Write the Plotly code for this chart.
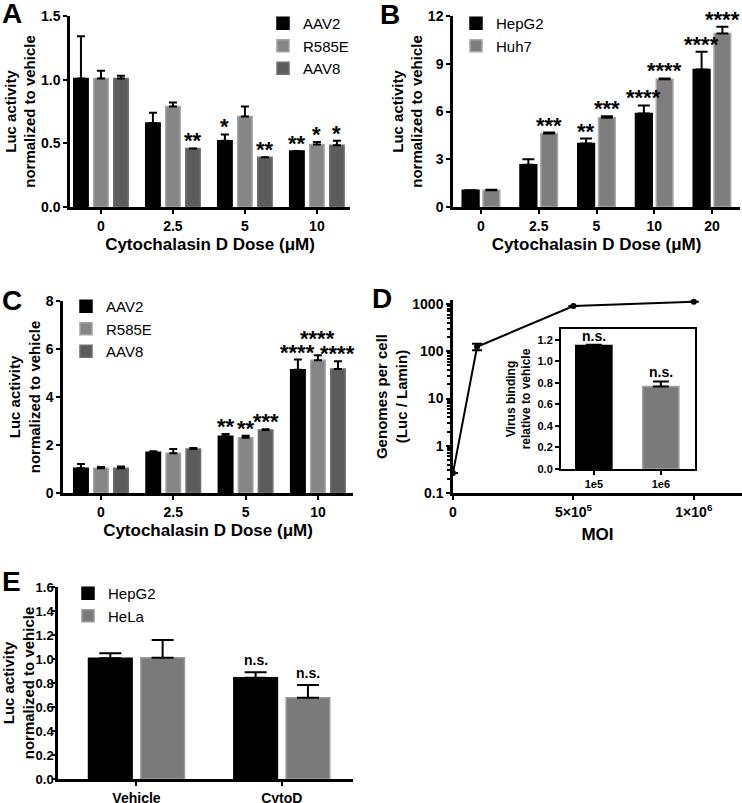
import plotly.graph_objects as go

# ---------------- data ----------------
A_categories = ["0", "2.5", "5", "10"]
A_aav2 = [1.01, 0.66, 0.52, 0.44]
A_aav2_err = [0.33, 0.08, 0.05, 0.0]
A_r585e = [1.01, 0.79, 0.71, 0.49]
A_r585e_err = [0.06, 0.03, 0.08, 0.02]
A_aav8 = [1.01, 0.46, 0.39, 0.485]
A_aav8_err = [0.02, 0.0, 0.0, 0.035]

B_categories = ["0", "2.5", "5", "10", "20"]
B_hepg2 = [1.05, 2.66, 3.99, 5.87, 8.64]
B_hepg2_err = [0.0, 0.34, 0.31, 0.51, 1.11]
B_huh7 = [1.05, 4.61, 5.6, 8.03, 10.9]
B_huh7_err = [0.03, 0.07, 0.1, 0.05, 0.43]

C_categories = ["0", "2.5", "5", "10"]
C_aav2 = [1.03, 1.70, 2.36, 5.14]
C_aav2_err = [0.18, 0.04, 0.10, 0.42]
C_r585e = [1.03, 1.66, 2.30, 5.53]
C_r585e_err = [0.05, 0.17, 0.09, 0.21]
C_aav8 = [1.03, 1.83, 2.62, 5.17]
C_aav8_err = [0.07, 0.05, 0.04, 0.32]

D_moi = [0, 1e5, 5e5, 1e6]
D_genomes = [0.266, 124.5, 906, 1120]
D_genomes_err = [0, 20, 0, 0]

Inset_categories = ["1e5", "1e6"]
Inset_binding = [1.147, 0.767]
Inset_binding_err = [0.007, 0.046]

E_categories = ["Vehicle", "CytoD"]
E_hepg2 = [1.006, 0.844]
E_hepg2_err = [0.041, 0.045]
E_hela = [1.01, 0.678]
E_hela_err = [0.148, 0.105]

A_stars = {"AAV2": ["", "", "*", "**"], "R585E": ["", "", "", "*"], "AAV8": ["", "**", "**", "*"]}
B_stars = {"HepG2": ["", "", "**", "****", "****"], "Huh7": ["", "***", "***", "****", "****"]}
C_stars = {"AAV2": ["", "", "**", "****"], "R585E": ["", "", "**", "****"], "AAV8": ["", "", "***", "****"]}
E_ns = {"HepG2": ["", "n.s."], "HeLa": ["", "n.s."]}
Inset_ns = ["n.s.", "n.s."]

# ---------------- styling ----------------
W, H = 742, 803
FONT = "Liberation Sans, Arial, sans-serif"
BLACK = "#000000"
GRAY_L, GRAY_L_EDGE = "#868686", "#a3a3a3"
GRAY_D, GRAY_D_EDGE = "#5c5c5c", "#6f6f6f"


def dx(a, b):
    return [a / W, b / W]


def dy(bottom, top):
    return [1 - bottom / H, 1 - top / H]


fig = go.Figure()


def bars(cats, series, offsets, width, cap, xa, ya, legend, stars=None, star_size=22, star_shift=None):
    n = len(cats)
    for k, ((name, vals, errs, fill, edge), off) in enumerate(zip(series, offsets)):
        xs = [i + off for i in range(n)]
        fig.add_trace(go.Bar(
            x=xs, y=vals, width=width, name=name,
            marker=dict(color=fill, line=dict(color=edge, width=1.5)),
            error_y=dict(type="data", symmetric=False, array=errs, arrayminus=[0] * n,
                         color="black", thickness=2, width=cap),
            xaxis=xa, yaxis=ya, legend=legend, showlegend=legend is not None,
        ))
        if stars:
            for i, s in enumerate(stars[name]):
                if s:
                    extra = star_shift(name, i) if star_shift else 0
                    fig.add_annotation(
                        x=xs[i], y=vals[i] + errs[i], xref=xa, yref=ya,
                        text=s, showarrow=False, yanchor="bottom",
                        yshift=-7 + extra,
                        font=dict(family=FONT, size=star_size, color="black", weight="bold"),
                    )


# A
bars(A_categories,
     [("AAV2", A_aav2, A_aav2_err, BLACK, BLACK),
      ("R585E", A_r585e, A_r585e_err, GRAY_L, GRAY_L_EDGE),
      ("AAV8", A_aav8, A_aav8_err, GRAY_D, GRAY_D_EDGE)],
     [-0.278, 0, 0.278], 0.2, 4, "x", "y", "legend", A_stars)
# B
bars(B_categories,
     [("HepG2", B_hepg2, B_hepg2_err, BLACK, BLACK),
      ("Huh7", B_huh7, B_huh7_err, "#7e7e7e", "#a9a9a9")],
     [-0.18, 0.18], 0.29, 6, "x2", "y2", "legend2", B_stars)
# C
bars(C_categories,
     [("AAV2", C_aav2, C_aav2_err, BLACK, BLACK),
      ("R585E", C_r585e, C_r585e_err, GRAY_L, GRAY_L_EDGE),
      ("AAV8", C_aav8, C_aav8_err, GRAY_D, GRAY_D_EDGE)],
     [-0.277, 0, 0.277], 0.2, 4, "x3", "y3", "legend3", C_stars,
     star_shift=lambda name, i: 9 if (name == "R585E" and i == 3) else 0)

# D main line
fig.add_trace(go.Scatter(
    x=D_moi, y=D_genomes, mode="lines+markers",
    line=dict(color="black", width=2), marker=dict(color="black", size=6),
    error_y=dict(type="data", array=D_genomes_err, color="black", thickness=2, width=5),
    xaxis="x4", yaxis="y4", showlegend=False, cliponaxis=False,
))
# D inset
fig.add_trace(go.Bar(
    x=[0, 1], y=Inset_binding, width=0.54,
    marker=dict(color=[BLACK, "#7a7a7a"], line=dict(color=[BLACK, "#a0a0a0"], width=1.5)),
    error_y=dict(type="data", symmetric=False, array=Inset_binding_err, arrayminus=[0, 0],
                 color="black", thickness=2, width=8),
    xaxis="x5", yaxis="y5", showlegend=False,
))
for i, s in enumerate(Inset_ns):
    fig.add_annotation(x=i, y=Inset_binding[i] + Inset_binding_err[i], xref="x5", yref="y5",
                       text=s, showarrow=False, yanchor="bottom", yshift=-1,
                       font=dict(family=FONT, size=14, color="black", weight="bold"))

# E
bars(E_categories,
     [("HepG2", E_hepg2, E_hepg2_err, BLACK, BLACK),
      ("HeLa", E_hela, E_hela_err, "#7a7a7a", "#999999")],
     [-0.18, 0.18], 0.3, 11, "x6", "y6", "legend4", E_ns, star_size=14,
     star_shift=lambda name, i: 9)

# ---------------- axes ----------------
tickfont = dict(family=FONT, size=14, color="black", weight="bold")
titlefont = dict(family=FONT, size=15, color="black", weight="bold")
xtitlefont = dict(family=FONT, size=17, color="black", weight="bold")


def ax(**kw):
    base = dict(showline=True, linecolor="black", linewidth=2.5, ticks="outside", ticklen=4,
                tickwidth=2, tickcolor="black", tickfont=tickfont, showgrid=False,
                zeroline=False, fixedrange=True, automargin=False)
    base.update(kw)
    return base


ytitle = "Luc activity<br>normalized to vehicle"
xtitle = "Cytochalasin D Dose (μM)"

fig.update_layout(
    xaxis=ax(domain=dx(70, 350), range=[-0.43, 3.46], anchor="y",
             tickvals=list(range(len(A_categories))), ticktext=A_categories,
             title=dict(text=xtitle, font=xtitlefont, standoff=6)),
    yaxis=ax(domain=dy(207, 16), range=[0, 1.5], anchor="x", dtick=0.5, tickformat=".1f",
             title=dict(text=ytitle, font=titlefont, standoff=2)),
    xaxis2=ax(domain=dx(453, 740), range=[-0.485, 4.485], anchor="y2",
              tickvals=list(range(len(B_categories))), ticktext=B_categories,
              title=dict(text=xtitle, font=xtitlefont, standoff=6)),
    yaxis2=ax(domain=dy(207, 16), range=[0, 12], anchor="x2", dtick=3,
              title=dict(text=ytitle, font=titlefont, standoff=2)),
    xaxis3=ax(domain=dx(63, 353), range=[-0.525, 3.485], anchor="y3",
              tickvals=list(range(len(C_categories))), ticktext=C_categories,
              title=dict(text=xtitle, font=xtitlefont, standoff=6)),
    yaxis3=ax(domain=dy(493, 301), range=[0, 8], anchor="x3", dtick=2,
              title=dict(text=ytitle, font=titlefont, standoff=2)),
    xaxis4=ax(domain=dx(453, 742), range=[0, 1.2e6], anchor="y4",
              tickvals=[0, 5e5, 1e6], ticktext=["0", "5×10<sup>5</sup>", "1×10<sup>6</sup>"],
              title=dict(text="MOI", font=xtitlefont, standoff=10)),
    yaxis4=ax(domain=dy(493, 300), type="log", range=[-1, 3.085], anchor="x4",
              tickvals=[0.1, 1, 10, 100, 1000], ticktext=["0.1", "1", "10", "100", "1000"],
              minor=dict(ticks="outside", ticklen=3, tickwidth=1.5, tickcolor="black", dtick="D1"),
              title=dict(text="Genomes per cell<br>(Luc / Lamin)", font=titlefont, standoff=2)),
    xaxis5=ax(domain=dx(561, 695), range=[-0.49, 1.51], anchor="y5", linewidth=2, ticklen=4,
              tickvals=[0, 1], ticktext=Inset_categories, mirror=True,
              tickfont=dict(family=FONT, size=11, color="black", weight="bold")),
    yaxis5=ax(domain=dy(469, 329), range=[0, 1.3], anchor="x5", linewidth=2, ticklen=4,
              dtick=0.2, tickformat=".1f", mirror=True,
              tickfont=dict(family=FONT, size=11, color="black", weight="bold"),
              title=dict(text="Virus binding<br>relative to vehicle",
                         font=dict(family=FONT, size=12, color="black", weight="bold"), standoff=4)),
    xaxis6=ax(domain=dx(58, 353), range=[-0.54, 1.49], anchor="y6",
              tickvals=list(range(len(E_categories))), ticktext=E_categories),
    yaxis6=ax(domain=dy(779, 587), range=[0, 1.6], anchor="x6", dtick=0.2, tickformat=".1f",
              ticklen=3, ticklabelstandoff=-4,
              tickfont=dict(family=FONT, size=13, color="black", weight="bold"),
              title=dict(text=ytitle, font=titlefont, standoff=2)),
)

legfont = dict(family=FONT, size=15, color="black")
leg = dict(bgcolor="rgba(0,0,0,0)", font=legfont, xanchor="left", yanchor="top",
           tracegroupgap=0, itemclick=False, itemdoubleclick=False)
fig.update_layout(
    legend=dict(leg, x=263 / W, y=1 - 7 / H),
    legend2=dict(leg, x=456 / W, y=1 - 7 / H),
    legend3=dict(leg, x=66 / W, y=1 - 290 / H),
    legend4=dict(leg, x=68 / W, y=1 - 577 / H),
)

# panel letters
for letter, xp, yp in [("A", 0, 14), ("B", 378, 15), ("C", 0, 301), ("D", 370, 299), ("E", 0, 581)]:
    fig.add_annotation(x=xp / W, y=1 - yp / H, xref="paper", yref="paper", text=letter,
                       showarrow=False, xanchor="left", yanchor="middle",
                       font=dict(family=FONT, size=28, color="black", weight="bold"))

fig.update_layout(
    width=W, height=H, margin=dict(l=0, r=0, t=0, b=0),
    paper_bgcolor="white", plot_bgcolor="white",
    barmode="overlay", showlegend=True,
    font=dict(family=FONT, color="black"),
)

fig.write_html("out.html", config={"displayModeBar": False},
               post_script="document.body.style.margin='0';document.body.style.overflow='hidden';")
